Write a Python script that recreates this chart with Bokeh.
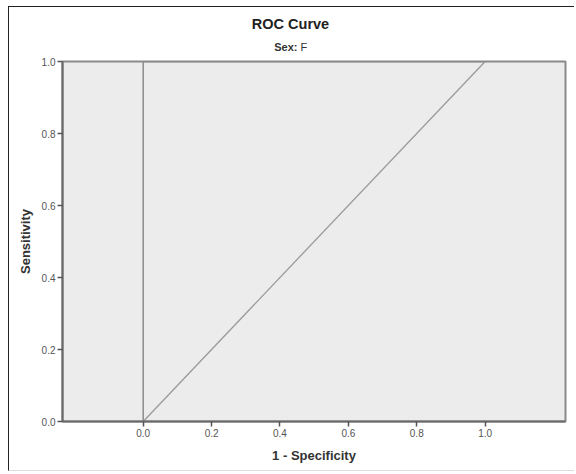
from bokeh.plotting import figure
from bokeh.models import Range1d, FixedTicker, Label, CustomJSTickFormatter
from bokeh.embed import file_html
from bokeh.resources import INLINE

# Data
roc_fpr = [0.0, 0.0, 1.0]
roc_tpr = [0.0, 1.0, 1.0]
ref_x = [0.0, 1.0]
ref_y = [0.0, 1.0]
x_ticks = [0.0, 0.2, 0.4, 0.6, 0.8, 1.0]
y_ticks = [0.0, 0.2, 0.4, 0.6, 0.8, 1.0]
title_text = "ROC Curve"
subtitle_key = "Sex:"
subtitle_val = "F"
x_label = "1 - Specificity"
y_label = "Sensitivity"

FONT = "Liberation Sans"

p = figure(width=566, height=465, output_backend="svg", toolbar_location=None,
           x_range=Range1d(-0.236, 1.235), y_range=Range1d(0.0, 1.0),
           min_border_left=53, min_border_right=10, min_border_top=54, min_border_bottom=51,
           background_fill_color="#ececec", border_fill_color="white")
p.styles = {"border": "1px solid #222", "border-right": "none",
            "border-bottom": "1px solid #dddddd", "margin": "6px 0 0 8px"}

p.outline_line_color = "#8a8a8a"
p.outline_line_width = 2
p.xgrid.visible = False
p.ygrid.visible = False

p.line(ref_x, ref_y, line_color="#9a9a9a", line_width=1.3)
p.line(roc_fpr, roc_tpr, line_color="#8c8c8c", line_width=1.5)

for ax in (p.xaxis[0], p.yaxis[0]):
    ax.axis_line_color = "#6a6a6a"
    ax.axis_line_width = 2
    ax.major_tick_line_color = "#555555"
    ax.major_tick_line_width = 1.5
    ax.major_tick_out = 5
    ax.major_tick_in = 0
    ax.minor_tick_line_color = None
    ax.major_label_text_font = FONT
    ax.major_label_text_font_size = "10px"
    ax.major_label_text_color = "#555555"
    ax.major_label_standoff = 2
    ax.axis_label_text_font = FONT
    ax.axis_label_text_font_style = "bold"
    ax.axis_label_text_font_size = "13px"
    ax.axis_label_text_color = "#333333"

p.xaxis.ticker = FixedTicker(ticks=x_ticks)
p.yaxis.ticker = FixedTicker(ticks=y_ticks)
fmt = CustomJSTickFormatter(code="return tick.toFixed(1);")
p.xaxis.formatter = fmt
p.yaxis.formatter = fmt
p.xaxis.axis_label = x_label
p.yaxis.axis_label = y_label
p.xaxis.axis_label_standoff = 8
p.yaxis.axis_label_standoff = 6

# Text rows above the frame (each label sits in its own panel; offsets pull them into place)
p.add_layout(Label(x=235, y=15, x_units="screen", y_units="screen", text=subtitle_key,
                   text_align="right", text_baseline="middle",
                   text_font=FONT, text_font_style="bold", text_font_size="11px", text_color="#333333"), "above")
p.add_layout(Label(x=238, y=2.5, x_units="screen", y_units="screen", text=subtitle_val,
                   text_align="left", text_baseline="middle",
                   text_font=FONT, text_font_size="11px", text_color="#333333"), "above")
p.add_layout(Label(x=228, y=14, x_units="screen", y_units="screen", text=title_text,
                   text_align="center", text_baseline="middle",
                   text_font=FONT, text_font_style="bold", text_font_size="14.5px", text_color="#222222"), "above")

open("out.html", "w").write(file_html(p, INLINE))
